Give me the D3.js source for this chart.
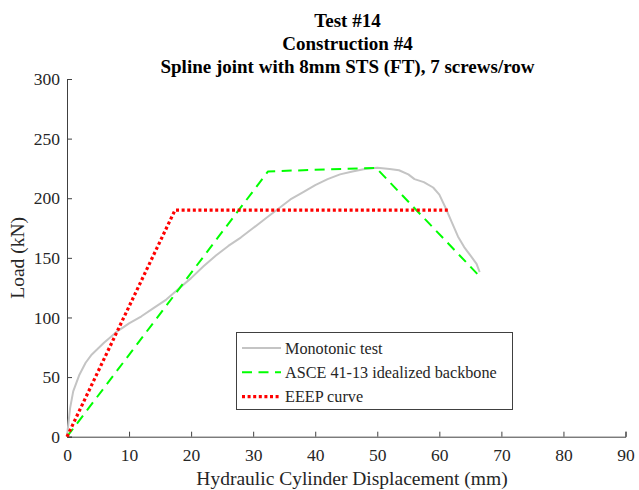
<!DOCTYPE html>
<html>
<head>
<meta charset="utf-8">
<script src="https://cdn.jsdelivr.net/npm/d3@7"></script>
<style>
  html, body { margin: 0; padding: 0; background: #fff; }
  svg { display: block; font-family: "Liberation Serif", "Times New Roman", serif; }
</style>
</head>
<body>
<svg id="chart" width="639" height="490"></svg>
<script>
// Monotonic load–displacement record (mm, kN)
const monoDisp = [0, 0.2, 0.5, 1, 2, 3, 4, 5, 6, 7, 8, 9, 10, 12, 14, 16, 18, 20, 22, 24, 26, 28, 30, 32, 34, 36, 38, 40, 42, 44, 46, 48, 50, 52, 53.5, 55, 56, 57.5, 59, 60, 61, 62, 63, 64, 65, 66, 66.5];
const monoLoad = [0, 10, 24, 38, 52, 62, 69, 74, 79, 83.5, 88, 91.5, 95, 101, 108, 115, 124, 133, 143, 152, 160, 167, 175, 183, 191, 199, 205, 211, 216, 220, 222.5, 224.5, 225.5, 224.5, 223.5, 220, 216, 213.5, 209, 203, 192, 180, 168, 159, 152, 145, 138];

// ASCE 41-13 idealized backbone
const asceDisp = [0, 32.4, 49.8, 66.4];
const asceLoad = [0, 222.5, 225.5, 135];

// EEEP curve
const eeepDisp = [0, 17.4, 61.6];
const eeepLoad = [0, 190, 190];

const xTicks = [0, 10, 20, 30, 40, 50, 60, 70, 80, 90];
const yTicks = [0, 50, 100, 150, 200, 250, 300];

const titleLines = ["Test #14", "Construction #4", "Spline joint with 8mm STS (FT), 7 screws/row"];
const legendLabels = ["Monotonic test", "ASCE 41-13 idealized backbone", "EEEP curve"];

const svg = d3.select("#chart");
const axisColor = "#404040";
const textColor = "#262626";

const x = d3.scaleLinear().domain([0, 90]).range([67, 625.5]);
const y = d3.scaleLinear().domain([0, 300]).range([436.7, 79]);

// Axes with inward ticks
const xAxis = d3.axisBottom(x).tickValues(xTicks).tickSize(-5).tickPadding(11.5);
const yAxis = d3.axisLeft(y).tickValues(yTicks).tickSize(-5).tickPadding(7);

const gx = svg.append("g").attr("transform", `translate(0,${y(0)})`).call(xAxis);
const gy = svg.append("g").attr("transform", `translate(${x(0)},0)`).call(yAxis);

[gx, gy].forEach(g => {
  g.select(".domain").attr("stroke", axisColor).attr("stroke-width", 1);
  g.selectAll(".tick line").attr("stroke", axisColor).attr("stroke-width", 1);
  g.selectAll(".tick text")
    .attr("fill", textColor)
    .style("font-family", "'Liberation Serif', serif")
    .style("font-size", "17.5px");
});
gx.selectAll(".tick text").attr("dy", "0.71em");

// Axis labels
svg.append("text")
  .attr("x", 352).attr("y", 485)
  .attr("text-anchor", "middle").attr("fill", textColor)
  .style("font-size", "19.5px")
  .text("Hydraulic Cylinder Displacement (mm)");

svg.append("text")
  .attr("transform", `translate(24,${(y(0) + y(300)) / 2}) rotate(-90)`)
  .attr("text-anchor", "middle").attr("fill", textColor)
  .style("font-size", "19.5px")
  .text("Load (kN)");

// Title
svg.append("g").selectAll("text").data(titleLines).join("text")
  .attr("x", 347.5)
  .attr("y", (d, i) => 27 + i * 23)
  .attr("text-anchor", "middle")
  .attr("fill", "#000")
  .style("font-size", "19px")
  .style("font-weight", "bold")
  .text(d => d);

const line = d3.line().x(d => x(d[0])).y(d => y(d[1]));

const series = [
  { disp: monoDisp, load: monoLoad, color: "#c4c4c4", width: 2, dash: null },
  { disp: asceDisp, load: asceLoad, color: "#00ff00", width: 2, dash: "10,6.5" },
  { disp: eeepDisp, load: eeepLoad, color: "#ff0000", width: 3.2, dash: "3,2.6" }
];

svg.append("g").selectAll("path").data(series).join("path")
  .attr("d", s => line(s.disp.map((v, i) => [v, s.load[i]])))
  .attr("fill", "none")
  .attr("stroke", s => s.color)
  .attr("stroke-width", s => s.width)
  .attr("stroke-dasharray", s => s.dash)
  .attr("stroke-linejoin", "round");

// Legend
const lg = svg.append("g");
lg.append("rect")
  .attr("x", 236.5).attr("y", 332.5).attr("width", 276).attr("height", 77)
  .attr("fill", "#fff").attr("stroke", axisColor).attr("stroke-width", 1);

series.forEach((s, i) => {
  const cy = 348 + i * 24.3;
  lg.append("line")
    .attr("x1", 242).attr("x2", 281).attr("y1", cy).attr("y2", cy)
    .attr("stroke", s.color).attr("stroke-width", s.width)
    .attr("stroke-dasharray", s.dash);
  lg.append("text")
    .attr("x", 285).attr("y", cy).attr("dy", "0.35em")
    .attr("fill", textColor)
    .style("font-size", "16.2px")
    .text(legendLabels[i]);
});
</script>
</body>
</html>
